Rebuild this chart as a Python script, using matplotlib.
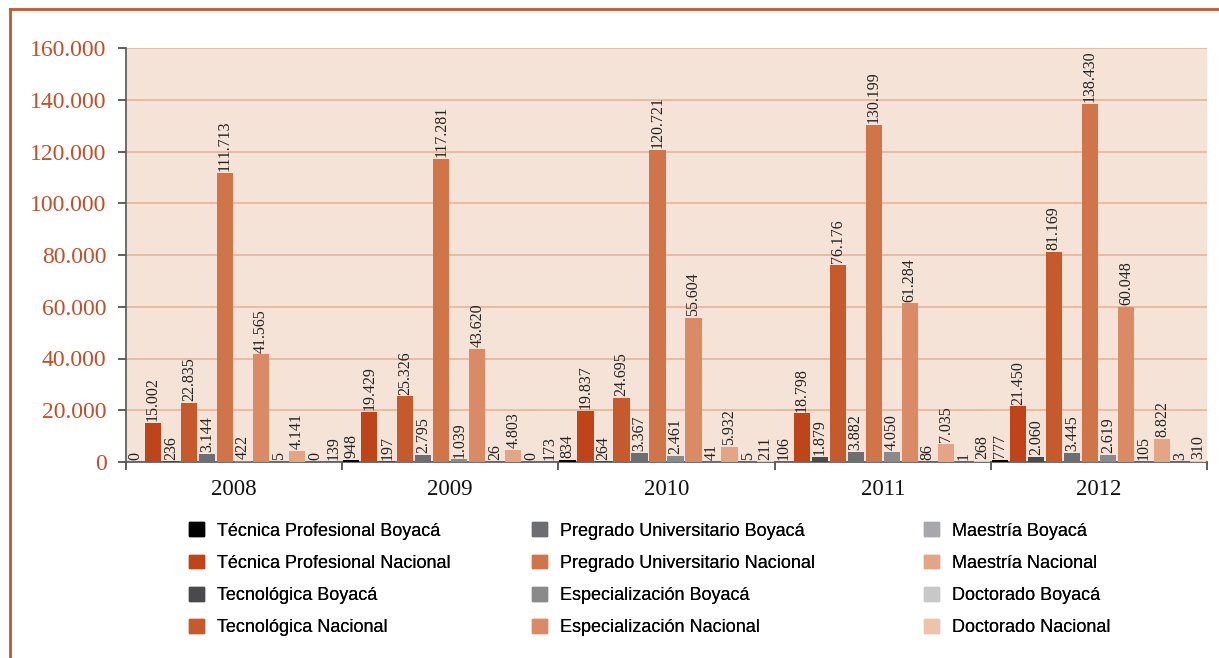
import matplotlib
matplotlib.use("Agg")
import matplotlib.pyplot as plt
import numpy as np
from matplotlib.lines import Line2D

years = ["2008", "2009", "2010", "2011", "2012"]
series_names = [
    "Técnica Profesional Boyacá", "Técnica Profesional Nacional",
    "Tecnológica Boyacá", "Tecnológica Nacional",
    "Pregrado Universitario Boyacá", "Pregrado Universitario Nacional",
    "Especialización Boyacá", "Especialización Nacional",
    "Maestría Boyacá", "Maestría Nacional",
    "Doctorado Boyacá", "Doctorado Nacional",
]
tec_prof_boy = [0, 948, 834, 106, 777]
tec_prof_nac = [15002, 19429, 19837, 18798, 21450]
tecnol_boy = [236, 197, 264, 1879, 2060]
tecnol_nac = [22835, 25326, 24695, 76176, 81169]
pregrado_boy = [3144, 2795, 3367, 3882, 3445]
pregrado_nac = [111713, 117281, 120721, 130199, 138430]
espec_boy = [422, 1039, 2461, 4050, 2619]
espec_nac = [41565, 43620, 55604, 61284, 60048]
maestria_boy = [5, 26, 41, 86, 105]
maestria_nac = [4141, 4803, 5932, 7035, 8822]
doct_boy = [0, 0, 5, 1, 3]
doct_nac = [139, 173, 211, 268, 310]
series_values = [tec_prof_boy, tec_prof_nac, tecnol_boy, tecnol_nac,
                 pregrado_boy, pregrado_nac, espec_boy, espec_nac,
                 maestria_boy, maestria_nac, doct_boy, doct_nac]
colors = ["#000000", "#BE4519", "#4A4A4C", "#C55A2C", "#6D6E71", "#D0744A",
          "#8A8A8C", "#DA8B66", "#A7A8AB", "#E3A585", "#C8C8CA", "#EDC3AC"]
y_ticks = [0, 20000, 40000, 60000, 80000, 100000, 120000, 140000, 160000]

def fmt(v):
    return f"{v:,}".replace(",", ".")

fig = plt.figure(figsize=(12.19, 6.58), dpi=100)
W, H = 1219, 658
ax = fig.add_axes([126 / W, 1 - 462 / H, (1207 - 126) / W, (462 - 48) / H])
ax.set_facecolor("#F5E3D8")

n = len(series_values)
slot = 1.0 / n
x = np.arange(len(years))
for i, (vals, c) in enumerate(zip(series_values, colors)):
    pos = x - 0.5 + slot * (i + 0.5)
    bars = ax.bar(pos, vals, width=slot * 0.9, color=c, zorder=3, label=series_names[i])
    for b, v in zip(bars, vals):
        ax.text(b.get_x() + b.get_width() / 2, v + 700, fmt(v), rotation=90,
                ha="center", va="bottom", fontsize=11.5, family="Liberation Serif",
                color="#222222", zorder=4)

ax.set_xlim(-0.5, len(years) - 0.5)
ax.set_ylim(0, 160000)
ax.set_yticks(y_ticks)
ax.set_yticklabels([fmt(t) for t in y_ticks], family="Liberation Serif",
                   fontsize=17, color="#C0502A")
ax.yaxis.grid(True, color="#E8AE90", linewidth=1.1, zorder=1)
ax.set_axisbelow(True)
ax.set_xticks(x)
ax.set_xticklabels(years, family="Liberation Serif", fontsize=16.5, color="#111111")
ax.tick_params(axis="x", length=0, pad=12)
ax.set_xticks(np.arange(-0.5, len(years), 1.0), minor=True)
ax.tick_params(axis="x", which="minor", length=6, color="#444444", width=1.2)
ax.tick_params(axis="y", length=6, color="#444444", width=1.2, pad=8)
for s in ["top", "right"]:
    ax.spines[s].set_visible(False)
for s in ["left", "bottom"]:
    ax.spines[s].set_color("#555555")
    ax.spines[s].set_linewidth(1.2)

handles = [plt.Rectangle((0, 0), 1, 1, color=c) for c in colors]
col_x = [184, 527, 919]
for k in range(3):
    leg = fig.legend(handles[4 * k:4 * k + 4], series_names[4 * k:4 * k + 4],
                     loc="upper left", bbox_to_anchor=(col_x[k] / W, 1 - 517 / H),
                     frameon=False, borderaxespad=0, borderpad=0.3,
                     prop={"family": ["Liberation Sans", "DejaVu Sans"], "size": 13},
                     handlelength=0.8, handleheight=0.8, handletextpad=0.75,
                     labelspacing=0.83)
    fig.add_artist(leg)

# frame lines (top and left)
fig.add_artist(Line2D([10 / W, 10 / W], [0, 1 - 9 / H], transform=fig.transFigure,
                      color="#C9552A", linewidth=2))
fig.add_artist(Line2D([10 / W, 1], [1 - 9 / H, 1 - 9 / H], transform=fig.transFigure,
                      color="#C9552A", linewidth=2))

fig.savefig("out.png", dpi=100)
